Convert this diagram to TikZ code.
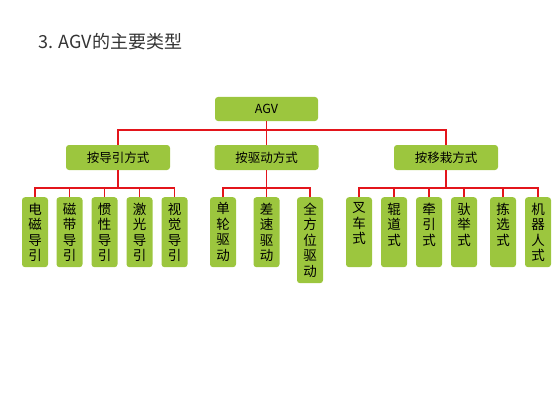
\documentclass[tikz,border=0pt]{standalone}
\usepackage{fontspec}
\setmainfont{Noto Sans CJK SC}
\definecolor{BoxGreen}{HTML}{9CC63E}
\definecolor{LinkRed}{HTML}{E3151B}
\definecolor{TitleGray}{HTML}{333333}
\newcommand\colstack[2]{\parbox[c][#1][t]{14pt}{\centering #2}}

\begin{document}
\begin{tikzpicture}[x=1pt,y=-1pt,
    box/.style={fill=BoxGreen,rounded corners=3pt,text=black},
    head/.style={box,minimum width=104pt,minimum height=25pt,inner sep=0pt,font=\fontsize{12.5}{14}\selectfont},
    leaf/.style={box,anchor=north,inner xsep=6pt,inner ysep=5.5pt,font=\fontsize{13.5}{15.5}\selectfont},
    link/.style={LinkRed,line width=1.5pt}]
  \useasboundingbox (0,0) rectangle (560,420);
  \node[anchor=west,text=TitleGray,font=\fontsize{18}{21}\selectfont] (title) at (35,42) {3. AGV的主要类型};
  % top levels
  \node[head,minimum width=103pt,minimum height=24pt] (agv) at (266.5,109) {AGV};
  \node[head] (guide) at (118,157.5) {按导引方式};
  \node[head] (drive) at (266.5,157.5) {按驱动方式};
  \node[head] (transfer) at (446,157.5) {按移栽方式};
  \draw[link] (agv.south) -- ++(0,9) -| (guide.north);
  \draw[link] (agv.south) -- ++(0,9) -| (transfer.north);
  \draw[link] (agv.south) -- (drive.north);
  % guidance
  \node[leaf] (em) at (35,197) {\colstack{59pt}{电\\磁\\导\\引}};
  \node[leaf] (tape) at (69.5,197) {\colstack{59pt}{磁\\带\\导\\引}};
  \node[leaf] (inert) at (104.5,197) {\colstack{59pt}{惯\\性\\导\\引}};
  \node[leaf] (laser) at (139.5,197) {\colstack{59pt}{激\\光\\导\\引}};
  \node[leaf] (vision) at (174.5,197) {\colstack{59pt}{视\\觉\\导\\引}};
  \foreach \n in {em,tape,inert,laser,vision}
    \draw[link] (guide.south) -- ++(0,18) -| (\n.north);
  % drive
  \node[leaf] (single) at (223,197) {\colstack{59pt}{单\\轮\\驱\\动}};
  \node[leaf] (diff) at (266.5,197) {\colstack{59pt}{差\\速\\驱\\动}};
  \node[leaf] (omni) at (310,197) {\colstack{75pt}{全\\方\\位\\驱\\动}};
  \foreach \n in {single,diff,omni}
    \draw[link] (drive.south) -- ++(0,18) -| (\n.north);
  % transfer
  \node[leaf] (fork) at (359,197) {\colstack{59pt}{叉\\车\\式}};
  \node[leaf] (roller) at (394,197) {\colstack{59pt}{辊\\道\\式}};
  \node[leaf] (tow) at (429,197) {\colstack{59pt}{牵\\引\\式}};
  \node[leaf] (lift) at (464,197) {\colstack{59pt}{驮\\举\\式}};
  \node[leaf] (pick) at (503,197) {\colstack{59pt}{拣\\选\\式}};
  \node[leaf] (robot) at (538,197) {\colstack{59pt}{机\\器\\人\\式}};
  \foreach \n in {fork,roller,tow,lift,pick,robot}
    \draw[link] (transfer.south) -- ++(0,18) -| (\n.north);
\end{tikzpicture}
\end{document}
